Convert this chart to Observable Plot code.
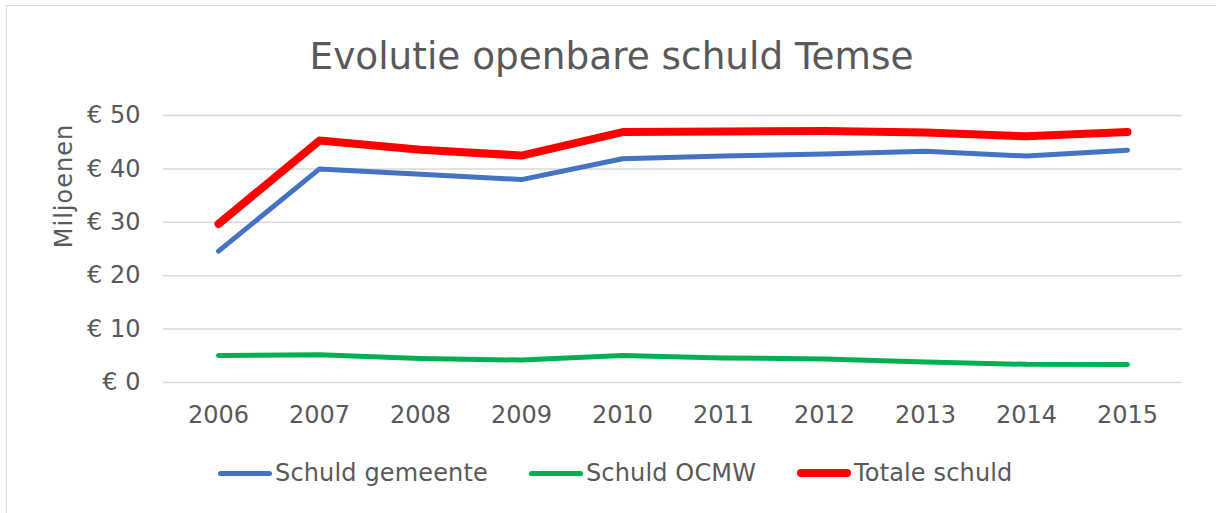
<!DOCTYPE html>
<html>
<head>
<meta charset="utf-8">
<script src="https://cdn.jsdelivr.net/npm/d3@7"></script>
<script src="https://cdn.jsdelivr.net/npm/@observablehq/plot@0.6"></script>
<style>
  html, body { margin: 0; padding: 0; background: #fff; }
  #wrap { position: relative; width: 1216px; height: 513px; overflow: hidden; font-family: "DejaVu Sans", Verdana, sans-serif; color: #595959; }
  #frame { position: absolute; left: 6px; top: 5px; width: 1230px; height: 540px; border: 1.5px solid #d9d9d9; box-sizing: border-box; }
  #title { position: absolute; left: 0; width: 1223px; top: 34px; text-align: center; font-size: 37.4px; line-height: 44px; white-space: nowrap; }
  #ylabel { position: absolute; left: 64px; top: 186px; transform: translate(-50%, -50%) rotate(-90deg); font-size: 24px; letter-spacing: 1px; white-space: nowrap; }
  #chart { position: absolute; left: 0; top: 0; }
  #legend { position: absolute; left: 218px; top: 458px; display: flex; align-items: center; font-size: 24px; line-height: 30px; white-space: nowrap; letter-spacing: 0.15px; }
  .item { display: flex; align-items: center; margin-right: 41px; }
  .sw { display: inline-block; width: 54px; border-radius: 4px; margin-right: 3px; }
</style>
</head>
<body>
<div id="wrap">
  <div id="frame"></div>
  <div id="title">Evolutie openbare schuld Temse</div>
  <div id="chart"></div>
  <div id="ylabel">Miljoenen</div>
  <div id="legend"></div>
</div>
<script>
const years = ["2006","2007","2008","2009","2010","2011","2012","2013","2014","2015"];
const schuldGemeente = [24.6, 40.0, 39.0, 38.0, 41.9, 42.4, 42.8, 43.3, 42.4, 43.5];
const schuldOCMW = [5.05, 5.2, 4.5, 4.2, 5.05, 4.6, 4.4, 3.85, 3.4, 3.37];
const totaleSchuld = [29.7, 45.3, 43.6, 42.5, 46.9, 47.0, 47.1, 46.8, 46.1, 46.9];
const yTicks = [0, 10, 20, 30, 40, 50];
const seriesNames = ["Schuld gemeente", "Schuld OCMW", "Totale schuld"];
const seriesColors = ["#4472C4", "#00B050", "#FF0000"];
const seriesWidths = [5, 5, 8];
const seriesValues = [schuldGemeente, schuldOCMW, totaleSchuld];

const lineMarks = seriesValues.map((vals, i) =>
  Plot.line(years.map((y, j) => ({year: y, value: vals[j]})), {
    x: "year", y: "value",
    stroke: seriesColors[i], strokeWidth: seriesWidths[i],
    strokeLinecap: "round", strokeLinejoin: "round"
  })
);

const chart = Plot.plot({
  width: 1216,
  height: 442,
  marginLeft: 163,
  marginRight: 34,
  marginTop: 115,
  marginBottom: 60,
  style: {fontFamily: "'DejaVu Sans', Verdana, sans-serif", fontSize: "24px", color: "#595959", background: "transparent", overflow: "visible"},
  x: {type: "point", domain: years, padding: 0.5, label: null},
  y: {domain: [0, 50], label: null},
  marks: [
    Plot.gridY(yTicks, {stroke: "#d9d9d9", strokeOpacity: 1, strokeWidth: 1.5}),
    Plot.axisY(yTicks, {tickSize: 0, tickPadding: 23, tickFormat: d => "€ " + d, label: null}),
    Plot.axisX({tickSize: 0, tickPadding: 23, label: null}),
    ...lineMarks
  ]
});
document.getElementById("chart").appendChild(chart);

const legend = document.getElementById("legend");
seriesNames.forEach((name, i) => {
  const item = document.createElement("div");
  item.className = "item";
  const sw = document.createElement("span");
  sw.className = "sw";
  sw.style.background = seriesColors[i];
  sw.style.height = seriesWidths[i] + "px";
  const t = document.createElement("span");
  t.textContent = name;
  item.appendChild(sw);
  item.appendChild(t);
  legend.appendChild(item);
});
</script>
</body>
</html>
